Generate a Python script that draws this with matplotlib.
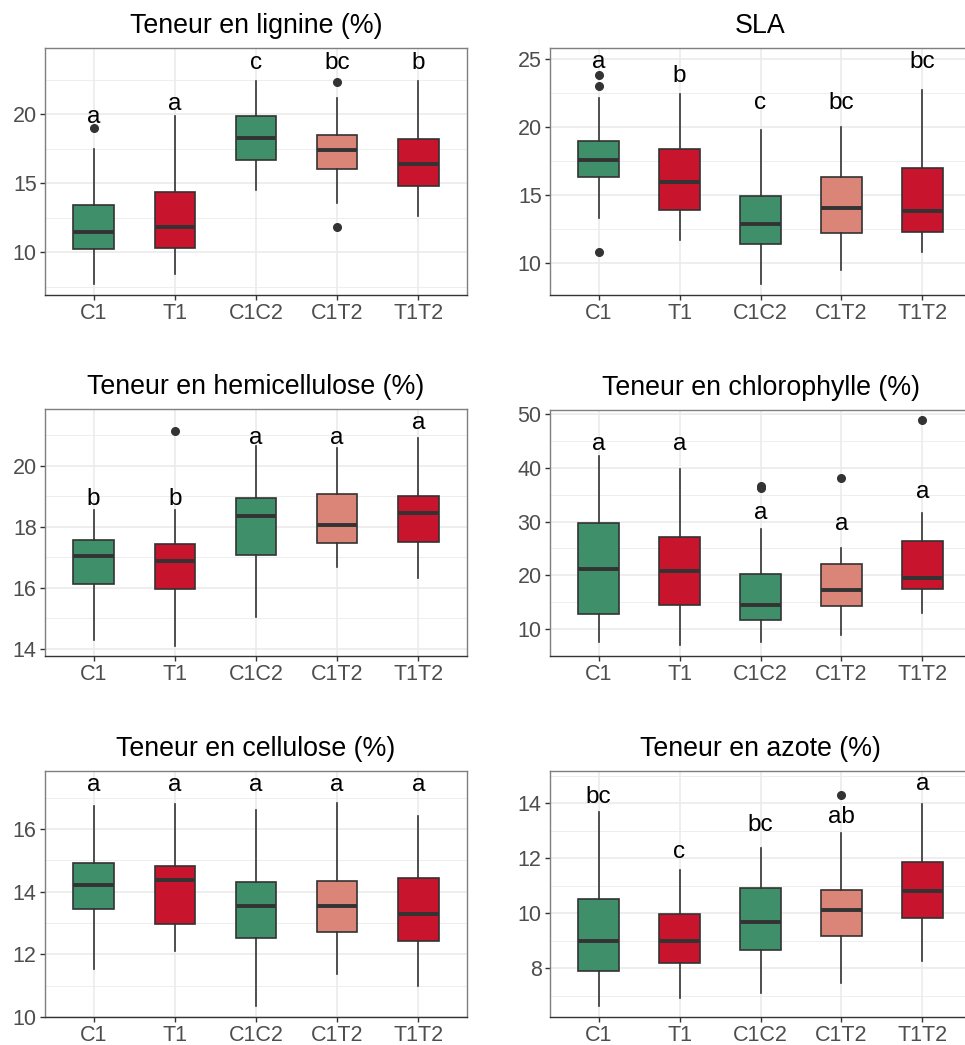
import matplotlib
matplotlib.use("Agg")
import matplotlib.pyplot as plt
from matplotlib.ticker import MultipleLocator

plt.rcParams["font.family"] = ["Liberation Sans", "DejaVu Sans"]

GROUPS = ["C1", "T1", "C1C2", "C1T2", "T1T2"]
COLORS = ["#3F8F6B", "#C8142C", "#3F8F6B", "#DB8478", "#C8142C"]

# per panel: whisker low, Q1, median, Q3, whisker high
lig_lo = [7.7, 8.4, 14.5, 13.6, 12.6]
lig_q1 = [10.2, 10.3, 16.7, 16.0, 14.8]
lig_med = [11.5, 11.8, 18.3, 17.4, 16.4]
lig_q3 = [13.4, 14.4, 19.9, 18.5, 18.2]
lig_hi = [17.5, 19.9, 22.4, 21.2, 22.4]
lig_out = [[19.0], [], [], [22.3, 11.8], []]
lig_let = ["a", "a", "c", "bc", "b"]
lig_lety = [19.33, 20.34, 23.3, 23.3, 23.3]

sla_lo = [13.3, 11.7, 8.5, 9.5, 10.8]
sla_q1 = [16.3, 13.9, 11.4, 12.25, 12.3]
sla_med = [17.56, 16.0, 12.86, 14.06, 13.84]
sla_q3 = [19.0, 18.4, 14.96, 16.34, 17.0]
sla_hi = [22.1, 22.4, 19.8, 20.0, 22.7]
sla_out = [[23.8, 23.0, 10.85], [], [], [], []]
sla_let = ["a", "b", "c", "bc", "bc"]
sla_lety = [24.3, 23.3, 21.35, 21.35, 24.3]

hem_lo = [14.3, 14.1, 15.05, 16.7, 16.33]
hem_q1 = [16.12, 15.98, 17.07, 17.47, 17.5]
hem_med = [17.04, 16.87, 18.34, 18.06, 18.45]
hem_q3 = [17.58, 17.45, 18.96, 19.09, 19.0]
hem_hi = [18.56, 18.56, 20.66, 20.57, 20.91]
hem_out = [[], [21.13], [], [], []]
hem_let = ["b", "b", "a", "a", "a"]
hem_lety = [18.7, 18.7, 20.71, 20.71, 21.21]

chl_lo = [7.6, 7.0, 7.6, 8.95, 13.0]
chl_q1 = [12.7, 14.4, 11.75, 14.3, 17.45]
chl_med = [21.1, 20.8, 14.55, 17.34, 19.5]
chl_q3 = [29.7, 27.1, 20.3, 22.0, 26.3]
chl_hi = [42.2, 39.8, 28.6, 25.1, 31.5]
chl_out = [[], [], [36.6, 36.2], [38.1], [48.8]]
chl_let = ["a", "a", "a", "a", "a"]
chl_lety = [43.3, 43.3, 30.4, 28.4, 34.4]

cel_lo = [11.53, 12.11, 10.34, 11.37, 11.0]
cel_q1 = [13.45, 12.96, 12.51, 12.7, 12.42]
cel_med = [14.21, 14.37, 13.53, 13.54, 13.3]
cel_q3 = [14.92, 14.81, 14.32, 14.35, 14.44]
cel_hi = [16.74, 16.79, 16.6, 16.82, 16.4]
cel_out = [[], [], [], [], []]
cel_let = ["a", "a", "a", "a", "a"]
cel_lety = [17.22, 17.22, 17.22, 17.22, 17.22]

azo_lo = [6.63, 6.9, 7.11, 7.45, 8.27]
azo_q1 = [7.88, 8.2, 8.65, 9.16, 9.84]
azo_med = [9.0, 8.97, 9.68, 10.1, 10.81]
azo_q3 = [10.52, 9.95, 10.92, 10.85, 11.85]
azo_hi = [13.69, 11.55, 12.36, 12.93, 13.96]
azo_out = [[], [], [], [14.29], []]
azo_let = ["bc", "c", "bc", "ab", "a"]
azo_lety = [14.0, 12.01, 12.99, 13.27, 14.48]

W, H = 965, 1045
# title, stats, letters, ylim, major step, pixel box (x0, y0top, x1, y1bottom)
panels = [
    ("Teneur en lignine (%)", (lig_lo, lig_q1, lig_med, lig_q3, lig_hi, lig_out),
     lig_let, lig_lety, (6.9, 24.8), 5, (45, 48, 467, 295)),
    ("SLA", (sla_lo, sla_q1, sla_med, sla_q3, sla_hi, sla_out),
     sla_let, sla_lety, (7.67, 25.8), 5, (550, 48, 971, 295)),
    ("Teneur en hemicellulose (%)", (hem_lo, hem_q1, hem_med, hem_q3, hem_hi, hem_out),
     hem_let, hem_lety, (13.77, 21.86), 2, (45, 409, 467, 656)),
    ("Teneur en chlorophylle (%)", (chl_lo, chl_q1, chl_med, chl_q3, chl_hi, chl_out),
     chl_let, chl_lety, (4.97, 50.75), 10, (550, 410, 971, 656)),
    ("Teneur en cellulose (%)", (cel_lo, cel_q1, cel_med, cel_q3, cel_hi, cel_out),
     cel_let, cel_lety, (10.0, 17.85), 2, (45, 771, 467, 1017)),
    ("Teneur en azote (%)", (azo_lo, azo_q1, azo_med, azo_q3, azo_hi, azo_out),
     azo_let, azo_lety, (6.22, 15.17), 2, (550, 771, 971, 1017)),
]

fig = plt.figure(figsize=(W / 100, H / 100), dpi=100)
for title, (lo, q1, med, q3, hi, out), lets, lety, ylim, step, (x0, y0, x1, y1) in panels:
    ax = fig.add_axes([x0 / W, 1 - y1 / H, (x1 - x0) / W, (y1 - y0) / H])
    stats = [dict(whislo=lo[i], q1=q1[i], med=med[i], q3=q3[i], whishi=hi[i],
                  fliers=out[i]) for i in range(len(GROUPS))]
    pos = list(range(1, len(GROUPS) + 1))
    bp = ax.bxp(stats, positions=pos, widths=0.5, patch_artist=True, showcaps=False,
                boxprops=dict(edgecolor="#333333", linewidth=1.2),
                whiskerprops=dict(color="#333333", linewidth=1.2),
                medianprops=dict(color="#333333", linewidth=2.8, solid_capstyle="butt"),
                flierprops=dict(marker="o", markerfacecolor="#333333",
                                markeredgecolor="#333333", markersize=5.5),
                zorder=3)
    for patch, c in zip(bp["boxes"], COLORS):
        patch.set_facecolor(c)
    for i, (t, y) in enumerate(zip(lets, lety)):
        ax.text(pos[i], y, t, ha="center", va="baseline", fontsize=17.5, color="black",
                zorder=4)
    ax.set_xlim(0.4, 5.6)
    ax.set_ylim(*ylim)
    ax.yaxis.set_major_locator(MultipleLocator(step))
    ax.yaxis.set_minor_locator(MultipleLocator(step / 2))
    ax.set_xticks(pos)
    ax.set_xticklabels(GROUPS)
    ax.grid(which="major", color="#EBEBEB", linewidth=1.2, zorder=0)
    ax.grid(which="minor", axis="y", color="#EBEBEB", linewidth=0.6, zorder=0)
    ax.set_axisbelow(True)
    ax.tick_params(axis="both", which="major", length=3.5, width=1.0, color="#333333",
                   labelsize=15.5, labelcolor="#4D4D4D", pad=2.5)
    ax.tick_params(axis="y", which="minor", length=0)
    for s in ax.spines.values():
        s.set_color("#7F7F7F")
        s.set_linewidth(1.0)
    ax.spines["bottom"].set_color("#333333")
    ax.set_title(title, fontsize=19.3, color="black", pad=11)

fig.savefig("out.png", dpi=100)
